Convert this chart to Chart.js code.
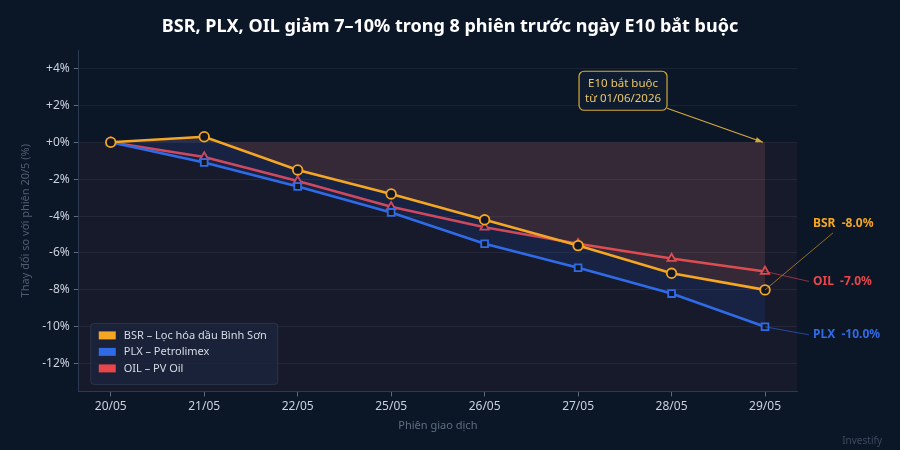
<!DOCTYPE html>
<html>
<head>
<meta charset="utf-8">
<script src="https://cdn.jsdelivr.net/npm/chart.js@4.4.1/dist/chart.umd.min.js"></script>
<style>
  html, body { margin: 0; padding: 0; background: #0b1627; }
  #wrap { width: 900px; height: 450px; }
</style>
</head>
<body>
<div id="wrap"><canvas id="c" width="900" height="450"></canvas></div>
<script>
// Data
const sessions = ['20/05', '21/05', '22/05', '25/05', '26/05', '27/05', '28/05', '29/05'];
const bsr = [0, 0.3, -1.5, -2.8, -4.2, -5.6, -7.1, -8.0];
const plx = [0, -1.1, -2.4, -3.8, -5.5, -6.8, -8.2, -10.0];
const oil = [0, -0.8, -2.1, -3.5, -4.6, -5.5, -6.3, -7.0];
const yTicks = [4, 2, 0, -2, -4, -6, -8, -10, -12];
const seriesNames = ['BSR – Lọc hóa dầu Bình Sơn', 'PLX – Petrolimex', 'OIL – PV Oil'];
const seriesCodes = ['BSR', 'PLX', 'OIL'];
const calloutLines = ['E10 bắt buộc', 'từ 01/06/2026'];
const titleText = 'BSR, PLX, OIL giảm 7–10% trong 8 phiên trước ngày E10 bắt buộc';

const FONT = '"Noto Sans", "Open Sans", sans-serif';
const ORANGE = '#f5a623', BLUE = '#2f6be6', RED = '#e8464b';
const COLORS = [ORANGE, BLUE, RED];

const pts = arr => arr.map((v, i) => ({ x: i, y: v }));
const fmtPct = v => (v >= 0 ? '+' : '') + v + '%';

// draws plot background, title, callout, end labels, legend and watermark
const decor = {
  id: 'decor',
  beforeDraw(chart) {
    const { ctx, chartArea: a, scales: { y } } = chart;
    const y0 = y.getPixelForValue(0);
    ctx.save();
    ctx.fillStyle = '#171a2b';
    ctx.fillRect(a.left, y0, a.right - a.left, a.bottom - y0);
    // title centred on the whole canvas
    ctx.fillStyle = '#ffffff';
    ctx.font = 'bold 18px ' + FONT;
    ctx.textAlign = 'center';
    ctx.textBaseline = 'middle';
    ctx.fillText(titleText, chart.width / 2, 27);
    ctx.restore();
  },
  afterDatasetsDraw(chart) {
    const { ctx, chartArea: a, scales: { x, y } } = chart;
    const last = sessions.length - 1;
    const lx = x.getPixelForValue(last);
    ctx.save();

    // end labels with leader lines
    const offs = [-66, 8, 10];
    const finals = [bsr[last], plx[last], oil[last]];
    ctx.font = 'bold 12px ' + FONT;
    ctx.textBaseline = 'middle';
    finals.forEach((v, i) => {
      const py = y.getPixelForValue(v);
      const ty = py + offs[i];
      const tx = a.right + 16;
      ctx.strokeStyle = COLORS[i];
      ctx.globalAlpha = 0.6;
      ctx.lineWidth = 1;
      ctx.beginPath();
      ctx.moveTo(lx, py);
      if (i === 0) ctx.lineTo(tx + 20, ty + 9);
      else ctx.lineTo(tx - 4, ty);
      ctx.stroke();
      ctx.globalAlpha = 1;
      ctx.fillStyle = COLORS[i];
      ctx.fillText(seriesCodes[i] + '  ' + v.toFixed(1) + '%', tx, ty);
    });

    // callout box + arrow to (29/05, 0)
    const tipX = lx - 2, tipY = y.getPixelForValue(0);
    const bx = tipX - 184, by = tipY - 71, bw = 88, bh = 39;
    ctx.strokeStyle = '#d4aa3a';
    ctx.lineWidth = 1.2;
    ctx.beginPath();
    ctx.moveTo(bx + bw, by + bh - 2);
    ctx.lineTo(tipX, tipY);
    ctx.stroke();
    const ang = Math.atan2(tipY - (by + bh - 2), tipX - (bx + bw));
    ctx.fillStyle = '#d4aa3a';
    ctx.beginPath();
    ctx.moveTo(tipX, tipY);
    ctx.lineTo(tipX - 8 * Math.cos(ang - 0.35), tipY - 8 * Math.sin(ang - 0.35));
    ctx.lineTo(tipX - 8 * Math.cos(ang + 0.35), tipY - 8 * Math.sin(ang + 0.35));
    ctx.closePath();
    ctx.fill();
    ctx.fillStyle = '#0f1b2e';
    ctx.beginPath();
    ctx.roundRect(bx, by, bw, bh, 5);
    ctx.fill();
    ctx.stroke();
    ctx.fillStyle = '#ecc96a';
    ctx.font = '11.5px ' + FONT;
    ctx.textAlign = 'center';
    ctx.fillText(calloutLines[0], bx + bw / 2, by + 12);
    ctx.fillText(calloutLines[1], bx + bw / 2, by + 27);

    // legend (bottom-left inside the plot)
    const gx = a.left + 12, gy = a.bottom - 68, gw = 187, gh = 61;
    ctx.fillStyle = 'rgba(27,38,62,0.75)';
    ctx.strokeStyle = 'rgba(60,75,100,0.5)';
    ctx.lineWidth = 1;
    ctx.beginPath();
    ctx.roundRect(gx, gy, gw, gh, 3);
    ctx.fill();
    ctx.stroke();
    ctx.textAlign = 'left';
    ctx.font = '11px ' + FONT;
    seriesNames.forEach((name, i) => {
      const ry = gy + 12 + i * 16.5;
      ctx.fillStyle = COLORS[i];
      ctx.fillRect(gx + 8, ry - 4, 17, 8);
      ctx.fillStyle = '#d6dce6';
      ctx.fillText(name, gx + 33, ry);
    });

    // watermark
    ctx.fillStyle = '#3d4b5e';
    ctx.font = '10px ' + FONT;
    ctx.textAlign = 'right';
    ctx.fillText('Investify', 882, 441);
    ctx.restore();
  }
};

const ds = (label, data, color, style, fill, fillColor) => ({
  label, data: pts(data),
  borderColor: color, borderWidth: 2.6,
  pointStyle: style, pointRadius: 4.8, pointBorderWidth: 1.8,
  pointBackgroundColor: '#131722', pointBorderColor: color,
  fill, backgroundColor: fillColor, tension: 0
});

new Chart(document.getElementById('c'), {
  type: 'line',
  data: {
    datasets: [
      ds(seriesNames[0], bsr, ORANGE, 'circle', { value: 0 }, 'rgba(173,106,108,0.2)'),
      ds(seriesNames[1], plx, BLUE, 'rect', 0, 'rgba(37,99,235,0.12)'),
      ds(seriesNames[2], oil, RED, 'triangle', false, 'transparent')
    ]
  },
  options: {
    responsive: false,
    animation: false,
    layout: { padding: { left: 15, right: 103, top: 50, bottom: 14 } },
    plugins: {
      legend: { display: false },
      tooltip: { enabled: false },
      title: { display: false }
    },
    scales: {
      x: {
        type: 'linear', min: -0.342, max: sessions.length - 1 + 0.342,
        afterBuildTicks: s => { s.ticks = sessions.map((_, i) => ({ value: i })); },
        ticks: { color: '#c9d1dc', font: { family: FONT, size: 12 }, padding: 3,
                 callback: v => sessions[v] },
        grid: { drawOnChartArea: false, color: '#5b6b80', tickLength: 5 },
        border: { color: '#2b3a52' },
        title: { display: true, text: 'Phiên giao dịch', color: '#5f6e82',
                 font: { family: FONT, size: 11 }, padding: { top: 2 } }
      },
      y: {
        min: -13.5, max: 5,
        afterBuildTicks: s => { s.ticks = yTicks.map(v => ({ value: v })); },
        ticks: { color: '#c9d1dc', font: { family: FONT, size: 12 }, padding: 4,
                 callback: v => fmtPct(v) },
        grid: { color: 'rgba(255,255,255,0.06)', tickColor: '#5b6b80', tickLength: 5 },
        border: { color: '#2b3a52' },
        title: { display: true, text: 'Thay đổi so với phiên 20/5 (%)', color: '#4f5e72',
                 font: { family: FONT, size: 11 }, padding: { bottom: 6 } }
      }
    }
  },
  plugins: [decor]
});
</script>
</body>
</html>
